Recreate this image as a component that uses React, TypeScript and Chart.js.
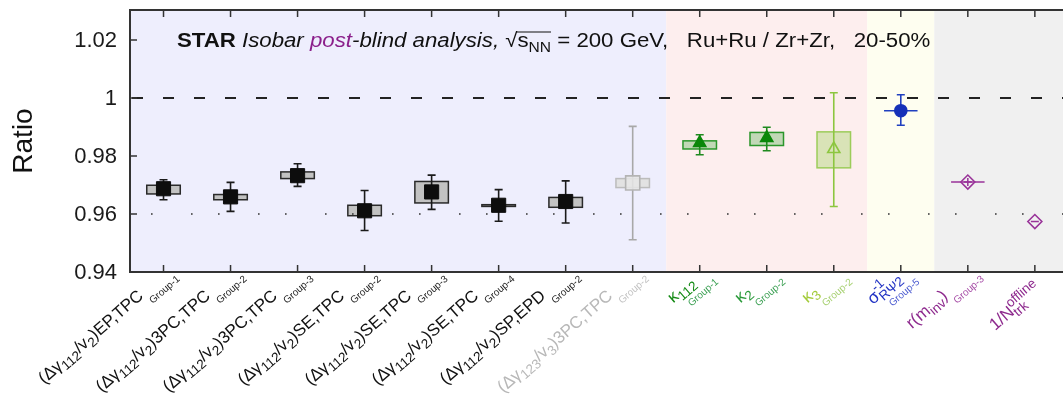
import React, { useEffect, useRef } from "react";
import { Chart, registerables } from "chart.js";

Chart.register(...registerables);

// ---------------- data ----------------
const categories = [
  "(Δγ_{112}/v_{2})EP,TPC",
  "(Δγ_{112}/v_{2})3PC,TPC",
  "(Δγ_{112}/v_{2})3PC,TPC",
  "(Δγ_{112}/v_{2})SE,TPC",
  "(Δγ_{112}/v_{2})SE,TPC",
  "(Δγ_{112}/v_{2})SE,TPC",
  "(Δγ_{112}/v_{2})SP,EPD",
  "(Δγ_{123}/v_{3})3PC,TPC",
  "κ_{112}",
  "κ_{2}",
  "κ_{3}",
  "σ^{-1}_{RΨ2}",
  "r(m_{inv})",
  "1/N^{offline}_{trk}",
];
const groups = [
  "Group-1", "Group-2", "Group-3", "Group-2", "Group-3", "Group-4", "Group-2",
  "Group-2", "Group-1", "Group-2", "Group-2", "Group-5", "Group-3", "",
];
const ratio = [0.9687, 0.9659, 0.9732, 0.9611, 0.9676, 0.963, 0.9643, 0.9707, 0.9845, 0.9862, 0.9824, 0.9956, 0.971, 0.9574];
const statLow = [0.9649, 0.9609, 0.9695, 0.9543, 0.9616, 0.9575, 0.9569, 0.9511, 0.9804, 0.9818, 0.9626, 0.9906, null, null];
const statHigh = [0.9718, 0.9709, 0.9773, 0.9681, 0.9734, 0.9684, 0.9714, 0.9902, 0.9873, 0.9899, 1.0018, 1.0011, null, null];
const sysLow = [0.9669, 0.9649, 0.9722, 0.9594, 0.9638, 0.9626, 0.9623, 0.9691, 0.9824, 0.9836, 0.9759, 0.9956, 0.971, null];
const sysHigh = [0.9699, 0.9667, 0.9745, 0.963, 0.9712, 0.9632, 0.9657, 0.9722, 0.9852, 0.9881, 0.9883, 0.9956, 0.971, null];

const yTicks = [0.94, 0.96, 0.98, 1, 1.02];
const yTickLabels = ["0.94", "0.96", "0.98", "1", "1.02"];
const yMin = 0.94;
const yMax = 1.0303;
const xMin = -0.5;
const xMax = 13.42;
const referenceValue = 1;
const dottedValue = 0.96;
const regionEdges = [-0.5, 7.5, 10.5, 11.5, 13.42];
const yTitle = "Ratio";
const titleParts = [
  { t: "STAR", s: "bold" },
  { t: " ", s: "n" },
  { t: "Isobar", s: "italic" },
  { t: " ", s: "n" },
  { t: "post", s: "italic-purple" },
  { t: "-blind analysis, ", s: "italic" },
  { t: "√", s: "n" },
  { t: "s", s: "root" },
  { t: "NN", s: "rootsub" },
  { t: " = 200 GeV,   Ru+Ru / Zr+Zr,   20-50%", s: "n" },
];

// ---------------- styles ----------------
const W = 1063;
const H = 397;
const FAMILY = '"Liberation Sans", Arial, Helvetica, sans-serif';
const regionColors = ["#eeeefd", "#fdeeee", "#fefef0", "#f0f0f0"];
const kinds = ["blk", "blk", "blk", "blk", "blk", "blk", "blk", "gry", "grn", "grn2", "ylg", "blu", "pur", "pur"];
const palette: Record<string, any> = {
  blk: { mark: "#0d0d0d", fill: "#0d0d0d", err: "#1a1a1a", boxFill: "#c2c2c2", boxLine: "#2a2a2a", label: "#111111", group: "#222222" },
  gry: { mark: "#b4b4b4", fill: "rgba(230,230,230,0.85)", err: "#a8a8a8", boxFill: "#e2e2e2", boxLine: "#bcbcbc", label: "#b8b8b8", group: "#c2c2c2" },
  grn: { mark: "#0a870a", fill: "#0a870a", err: "#1f8a1f", boxFill: "rgba(40,160,40,0.28)", boxLine: "#2b962b", label: "#138a13", group: "#3a9f52" },
  grn2: { mark: "#0a870a", fill: "#0a870a", err: "#1f8a1f", boxFill: "rgba(40,160,40,0.28)", boxLine: "#2b962b", label: "#2a9a3a", group: "#3a9f52" },
  ylg: { mark: "#8cc63f", fill: "rgba(0,0,0,0)", err: "#8cc63f", boxFill: "rgba(150,205,80,0.35)", boxLine: "#9ccc5a", label: "#a3cb3a", group: "#a6d070" },
  blu: { mark: "#1530b8", fill: "#1530b8", err: "#2040c0", boxFill: "rgba(0,0,0,0)", boxLine: "#2040c0", label: "#2233c4", group: "#4a5ad0" },
  pur: { mark: "#993399", fill: "rgba(0,0,0,0)", err: "#993399", boxFill: "rgba(0,0,0,0)", boxLine: "#993399", label: "#8e2a8e", group: "#a64ca6" },
};
const markerStyles = ["rect", "rect", "rect", "rect", "rect", "rect", "rect", "rect", "triangle", "triangle", "triangle", "circle", "rectRot", "rectRot"];
const markerRadius = [10, 10, 10, 10, 10, 10, 10, 10, 7, 7, 7, 6, 7, 7];
const innerStyles: (string | null)[] = [null, null, null, null, null, null, null, null, null, null, null, null, "cross", "line"];

type Seg = { t: string; k: "n" | "sub" | "sup" };
function parseRich(s: string): Seg[] {
  const segs: Seg[] = [];
  let buf = "";
  let i = 0;
  while (i < s.length) {
    const c = s[i];
    if ((c === "_" || c === "^") && s[i + 1] === "{") {
      if (buf) {
        segs.push({ t: buf, k: "n" });
        buf = "";
      }
      const end = s.indexOf("}", i + 2);
      segs.push({ t: s.slice(i + 2, end), k: c === "_" ? "sub" : "sup" });
      i = end + 1;
    } else {
      buf += c;
      i++;
    }
  }
  if (buf) segs.push({ t: buf, k: "n" });
  return segs;
}

const F = 17;
const SF = 13.5;
const GF = 10;
const ANG = (41 * Math.PI) / 180;

const decorPlugin = {
  id: "decor",
  beforeDatasetsDraw(chart: any) {
    const { ctx, chartArea, scales } = chart;
    const xs = scales.x;
    const ys = scales.y;
    ctx.save();
    for (let r = 0; r < regionColors.length; r++) {
      const x0 = xs.getPixelForValue(regionEdges[r]);
      const x1 = xs.getPixelForValue(regionEdges[r + 1]);
      ctx.fillStyle = regionColors[r];
      ctx.fillRect(x0, chartArea.top, x1 - x0, chartArea.bottom - chartArea.top);
    }
    ratio.forEach((_, i) => {
      const p = palette[kinds[i]];
      if (sysLow[i] !== null && sysHigh[i] !== null) {
        const x0 = xs.getPixelForValue(i - 0.25);
        const x1 = xs.getPixelForValue(i + 0.25);
        const y0 = ys.getPixelForValue(sysHigh[i] as number);
        const y1 = ys.getPixelForValue(sysLow[i] as number);
        ctx.fillStyle = p.boxFill;
        ctx.fillRect(x0, y0, x1 - x0, y1 - y0);
        ctx.strokeStyle = p.boxLine;
        ctx.lineWidth = 1.5;
        ctx.strokeRect(x0, y0, x1 - x0, y1 - y0);
      }
    });
    ratio.forEach((_, i) => {
      const p = palette[kinds[i]];
      if (statLow[i] === null || statHigh[i] === null) return;
      const xc = xs.getPixelForValue(i);
      const yt = ys.getPixelForValue(statHigh[i] as number);
      const yb = ys.getPixelForValue(statLow[i] as number);
      ctx.strokeStyle = p.err;
      ctx.lineWidth = 1.6;
      ctx.beginPath();
      ctx.moveTo(xc, yt);
      ctx.lineTo(xc, yb);
      ctx.moveTo(xc - 4, yt);
      ctx.lineTo(xc + 4, yt);
      ctx.moveTo(xc - 4, yb);
      ctx.lineTo(xc + 4, yb);
      ctx.stroke();
    });
    ctx.restore();
  },
  afterDraw(chart: any) {
    const { ctx, chartArea, scales } = chart;
    const xs = scales.x;
    const ys = scales.y;
    ctx.save();
    ctx.strokeStyle = "#333333";
    ctx.lineWidth = 2;
    ctx.beginPath();
    ctx.moveTo(chartArea.right + 2, chartArea.top);
    ctx.lineTo(chartArea.left, chartArea.top);
    ctx.lineTo(chartArea.left, chartArea.bottom);
    ctx.lineTo(chartArea.right + 2, chartArea.bottom);
    ctx.stroke();
    ctx.lineWidth = 1.5;
    ctx.beginPath();
    categories.forEach((_, i) => {
      const px = xs.getPixelForValue(i);
      ctx.moveTo(px, chartArea.bottom);
      ctx.lineTo(px, chartArea.bottom - 7);
      ctx.moveTo(px, chartArea.top);
      ctx.lineTo(px, chartArea.top + 7);
    });
    yTicks.forEach((v) => {
      const py = ys.getPixelForValue(v);
      ctx.moveTo(chartArea.left, py);
      ctx.lineTo(chartArea.left + 7, py);
    });
    ctx.stroke();
    ctx.fillStyle = "#1a1a1a";
    ctx.font = `22px ${FAMILY}`;
    ctx.textAlign = "right";
    ctx.textBaseline = "middle";
    yTicks.forEach((v, k) => {
      ctx.fillText(yTickLabels[k], chartArea.left - 13, ys.getPixelForValue(v) + 1);
    });
    ctx.save();
    ctx.translate(24, (chartArea.top + chartArea.bottom) / 2);
    ctx.rotate(-Math.PI / 2);
    ctx.textAlign = "center";
    ctx.textBaseline = "middle";
    ctx.font = `28px ${FAMILY}`;
    ctx.fillStyle = "#111";
    ctx.fillText(yTitle, 0, 0);
    ctx.restore();

    categories.forEach((lab, i) => {
      const p = palette[kinds[i]];
      const segs = parseRich(lab);
      const pieces: any[] = [];
      let cx = 0;
      let last: any = null;
      for (const s of segs) {
        const size = s.k === "n" ? F : SF;
        ctx.font = `${size}px ${FAMILY}`;
        const w = ctx.measureText(s.t).width;
        if (s.k === "n") {
          pieces.push({ t: s.t, x: cx, dy: 0, size });
          cx += w;
          last = null;
        } else {
          let start = cx;
          if (last && last.k !== s.k) start = last.start;
          const dy = s.k === "sub" ? 0.25 * F : -0.45 * F;
          pieces.push({ t: s.t, x: start, dy, size });
          cx = Math.max(cx, start + w);
          last = { start, k: s.k };
        }
      }
      let end = cx;
      let base = 0;
      let gp: any = null;
      if (groups[i]) {
        ctx.font = `${GF}px ${FAMILY}`;
        const gw = ctx.measureText(groups[i]).width;
        const stacked = last && last.k === "sub";
        const gs = stacked ? last.start + 3 : cx + 2;
        gp = { t: groups[i], x: gs, dy: stacked ? 0.25 * F + 10 : 0.62 * F };
        end = Math.max(end, gs + gw);
      } else {
        end += 14;
        base = 12;
      }
      ctx.save();
      ctx.translate(xs.getPixelForValue(i) + 10, chartArea.bottom);
      ctx.rotate(-ANG);
      ctx.textAlign = "left";
      ctx.textBaseline = "alphabetic";
      ctx.fillStyle = p.label;
      pieces.forEach((pc) => {
        ctx.font = `${pc.size}px ${FAMILY}`;
        ctx.fillText(pc.t, pc.x - end, pc.dy + base);
      });
      if (gp) {
        ctx.font = `${GF}px ${FAMILY}`;
        ctx.fillStyle = p.group;
        ctx.fillText(gp.t, gp.x - end, gp.dy);
      }
      ctx.restore();
    });

    const fontFor = (s: string) => {
      if (s === "bold") return `bold 20px ${FAMILY}`;
      if (s.startsWith("italic")) return `italic 20px ${FAMILY}`;
      if (s === "rootsub") return `14px ${FAMILY}`;
      return `20px ${FAMILY}`;
    };
    let total = 0;
    const widths = titleParts.map((tp) => {
      ctx.font = fontFor(tp.s);
      const w = ctx.measureText(tp.t).width;
      total += w;
      return w;
    });
    const startX = xs.getPixelForValue(0.2);
    const targetW = xs.getPixelForValue(11.44) - startX;
    const sx = targetW / total;
    ctx.save();
    ctx.translate(startX, chartArea.top + 37);
    ctx.scale(sx, 1);
    ctx.textAlign = "left";
    ctx.textBaseline = "alphabetic";
    let tx = 0;
    let rootStart = 0;
    titleParts.forEach((tp, k) => {
      ctx.font = fontFor(tp.s);
      ctx.fillStyle = tp.s === "italic-purple" ? "#8b1f8b" : "#111";
      const dy = tp.s === "rootsub" ? 5 : 0;
      if (tp.s === "root") rootStart = tx;
      ctx.fillText(tp.t, tx, dy);
      tx += widths[k];
      if (tp.s === "rootsub") {
        ctx.strokeStyle = "#111";
        ctx.lineWidth = 1;
        ctx.beginPath();
        ctx.moveTo(rootStart - 1, -15);
        ctx.lineTo(tx, -15);
        ctx.stroke();
      }
    });
    ctx.restore();
    ctx.restore();
  },
};

export default function App() {
  const ref = useRef<HTMLCanvasElement | null>(null);
  useEffect(() => {
    if (!ref.current) return;
    const markerPts = ratio.map((v, i) => ({ x: i, y: v }));
    const innerIdx = innerStyles.map((s, i) => (s ? i : -1)).filter((i) => i >= 0);
    const chart = new Chart(ref.current, {
      type: "scatter",
      data: {
        datasets: [
          {
            data: innerIdx.map((i) => ({ x: i, y: ratio[i] })),
            pointStyle: innerIdx.map((i) => innerStyles[i]) as any,
            pointRadius: 4,
            borderColor: "#993399",
            backgroundColor: "#993399",
            pointBorderWidth: 1.5,
          } as any,
          {
            data: markerPts,
            pointStyle: markerStyles as any,
            pointRadius: markerRadius,
            backgroundColor: kinds.map((k) => palette[k].fill),
            borderColor: kinds.map((k) => palette[k].mark),
            pointBorderWidth: kinds.map((k) => (k === "blk" ? 1 : 1.6)),
          } as any,
          {
            type: "line",
            data: [
              { x: xMin, y: referenceValue },
              { x: xMax, y: referenceValue },
            ],
            borderColor: "#222",
            borderWidth: 2,
            borderDash: [11, 20],
            borderDashOffset: 29,
            pointRadius: 0,
          } as any,
          {
            type: "line",
            data: [
              { x: xMin, y: dottedValue },
              { x: xMax, y: dottedValue },
            ],
            borderColor: "#333",
            borderWidth: 1.6,
            borderDash: [1.6, 38.4, 1.6, 25.4],
            borderDashOffset: 46,
            pointRadius: 0,
          } as any,
        ],
      },
      options: {
        animation: false,
        responsive: false,
        maintainAspectRatio: false,
        devicePixelRatio: 1,
        events: [],
        layout: { autoPadding: false, padding: { left: 130, top: 10, right: 0, bottom: 125 } },
        plugins: { legend: { display: false }, tooltip: { enabled: false } },
        scales: {
          x: { type: "linear", min: xMin, max: xMax, display: false },
          y: { type: "linear", min: yMin, max: yMax, display: false },
        },
      },
      plugins: [decorPlugin],
    });
    return () => chart.destroy();
  }, []);
  return (
    <div style={{ position: "fixed", left: 0, top: 0, width: W, height: H, background: "#fff" }}>
      <canvas ref={ref} width={W} height={H} style={{ display: "block", width: W, height: H }} />
    </div>
  );
}
